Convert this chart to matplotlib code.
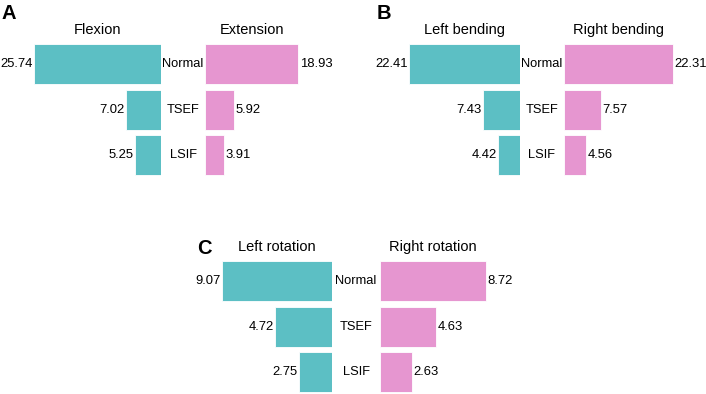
"""Back-to-back bar panels: range of motion for Normal / TSEF / LSIF."""

import matplotlib
matplotlib.use("Agg")
import matplotlib.pyplot as plt

plt.rcParams["font.family"] = ["Liberation Sans", "DejaVu Sans"]

categories = ["Normal", "TSEF", "LSIF"]

flexion = [25.74, 7.02, 5.25]
extension = [18.93, 5.92, 3.91]
left_bending = [22.41, 7.43, 4.42]
right_bending = [22.31, 7.57, 4.56]
left_rotation = [9.07, 4.72, 2.75]
right_rotation = [8.72, 4.63, 2.63]

TEAL = "#5cbfc4"
PINK = "#e696d0"

W, H = 706, 394
ROW = 45.5
fig = plt.figure(figsize=(W / 100, H / 100), dpi=100)


def px_axes(x0, y0, w, h):
    """Add axes from pixel box (top-left origin)."""
    return fig.add_axes([x0 / W, 1 - (y0 + h) / H, w / W, h / H])


def side(x_edge, y_top, vals, scale, color, left, title):
    span = 170
    if left:
        ax = px_axes(x_edge - span, y_top, span, ROW * 3)
        ax.set_xlim(span / scale, 0)
    else:
        ax = px_axes(x_edge, y_top, span, ROW * 3)
        ax.set_xlim(0, span / scale)
    ax.set_ylim(2.5, -0.5)
    ypos = range(len(vals))
    ax.barh(ypos, vals, height=40 / ROW, color=color, edgecolor="white", linewidth=0.6)
    for y, v in zip(ypos, vals):
        ax.annotate(f"{v:.2f}", (v, y), xytext=(-1 if left else 1, 0),
                    textcoords="offset points", ha="right" if left else "left",
                    va="center", fontsize=9.4)
    # title baseline ~9 px above the top bar
    ax.annotate(title, (vals[0] / 2, -0.5), xytext=(0, 5.5),
                textcoords="offset points", ha="center", va="baseline", fontsize=10.5)
    ax.axis("off")
    return ax


def panel(letter, letter_xy, left_edge, right_edge, y_top, lv, rv, scale, ltitle, rtitle):
    side(left_edge, y_top, lv, scale, TEAL, True, ltitle)
    side(right_edge, y_top, rv, scale, PINK, False, rtitle)
    mid = (left_edge + right_edge) / 2
    for i, c in enumerate(categories):
        fig.text(mid / W, 1 - (y_top + ROW / 2 + ROW * i) / H, c,
                 ha="center", va="center", fontsize=9.3)
    fig.text(letter_xy[0] / W, 1 - letter_xy[1] / H, letter, fontsize=14.5,
             fontweight="bold", ha="left", va="top")


panel("A", (2, 4), 161, 205, 41.5, flexion, extension, 4.93, "Flexion", "Extension")
panel("B", (377, 4), 519.7, 563.7, 41.5, left_bending, right_bending, 4.92,
      "Left bending", "Right bending")
panel("C", (197, 239), 332, 380, 258.7, left_rotation, right_rotation, 12.1,
      "Left rotation", "Right rotation")

fig.savefig("out.png", dpi=100)
